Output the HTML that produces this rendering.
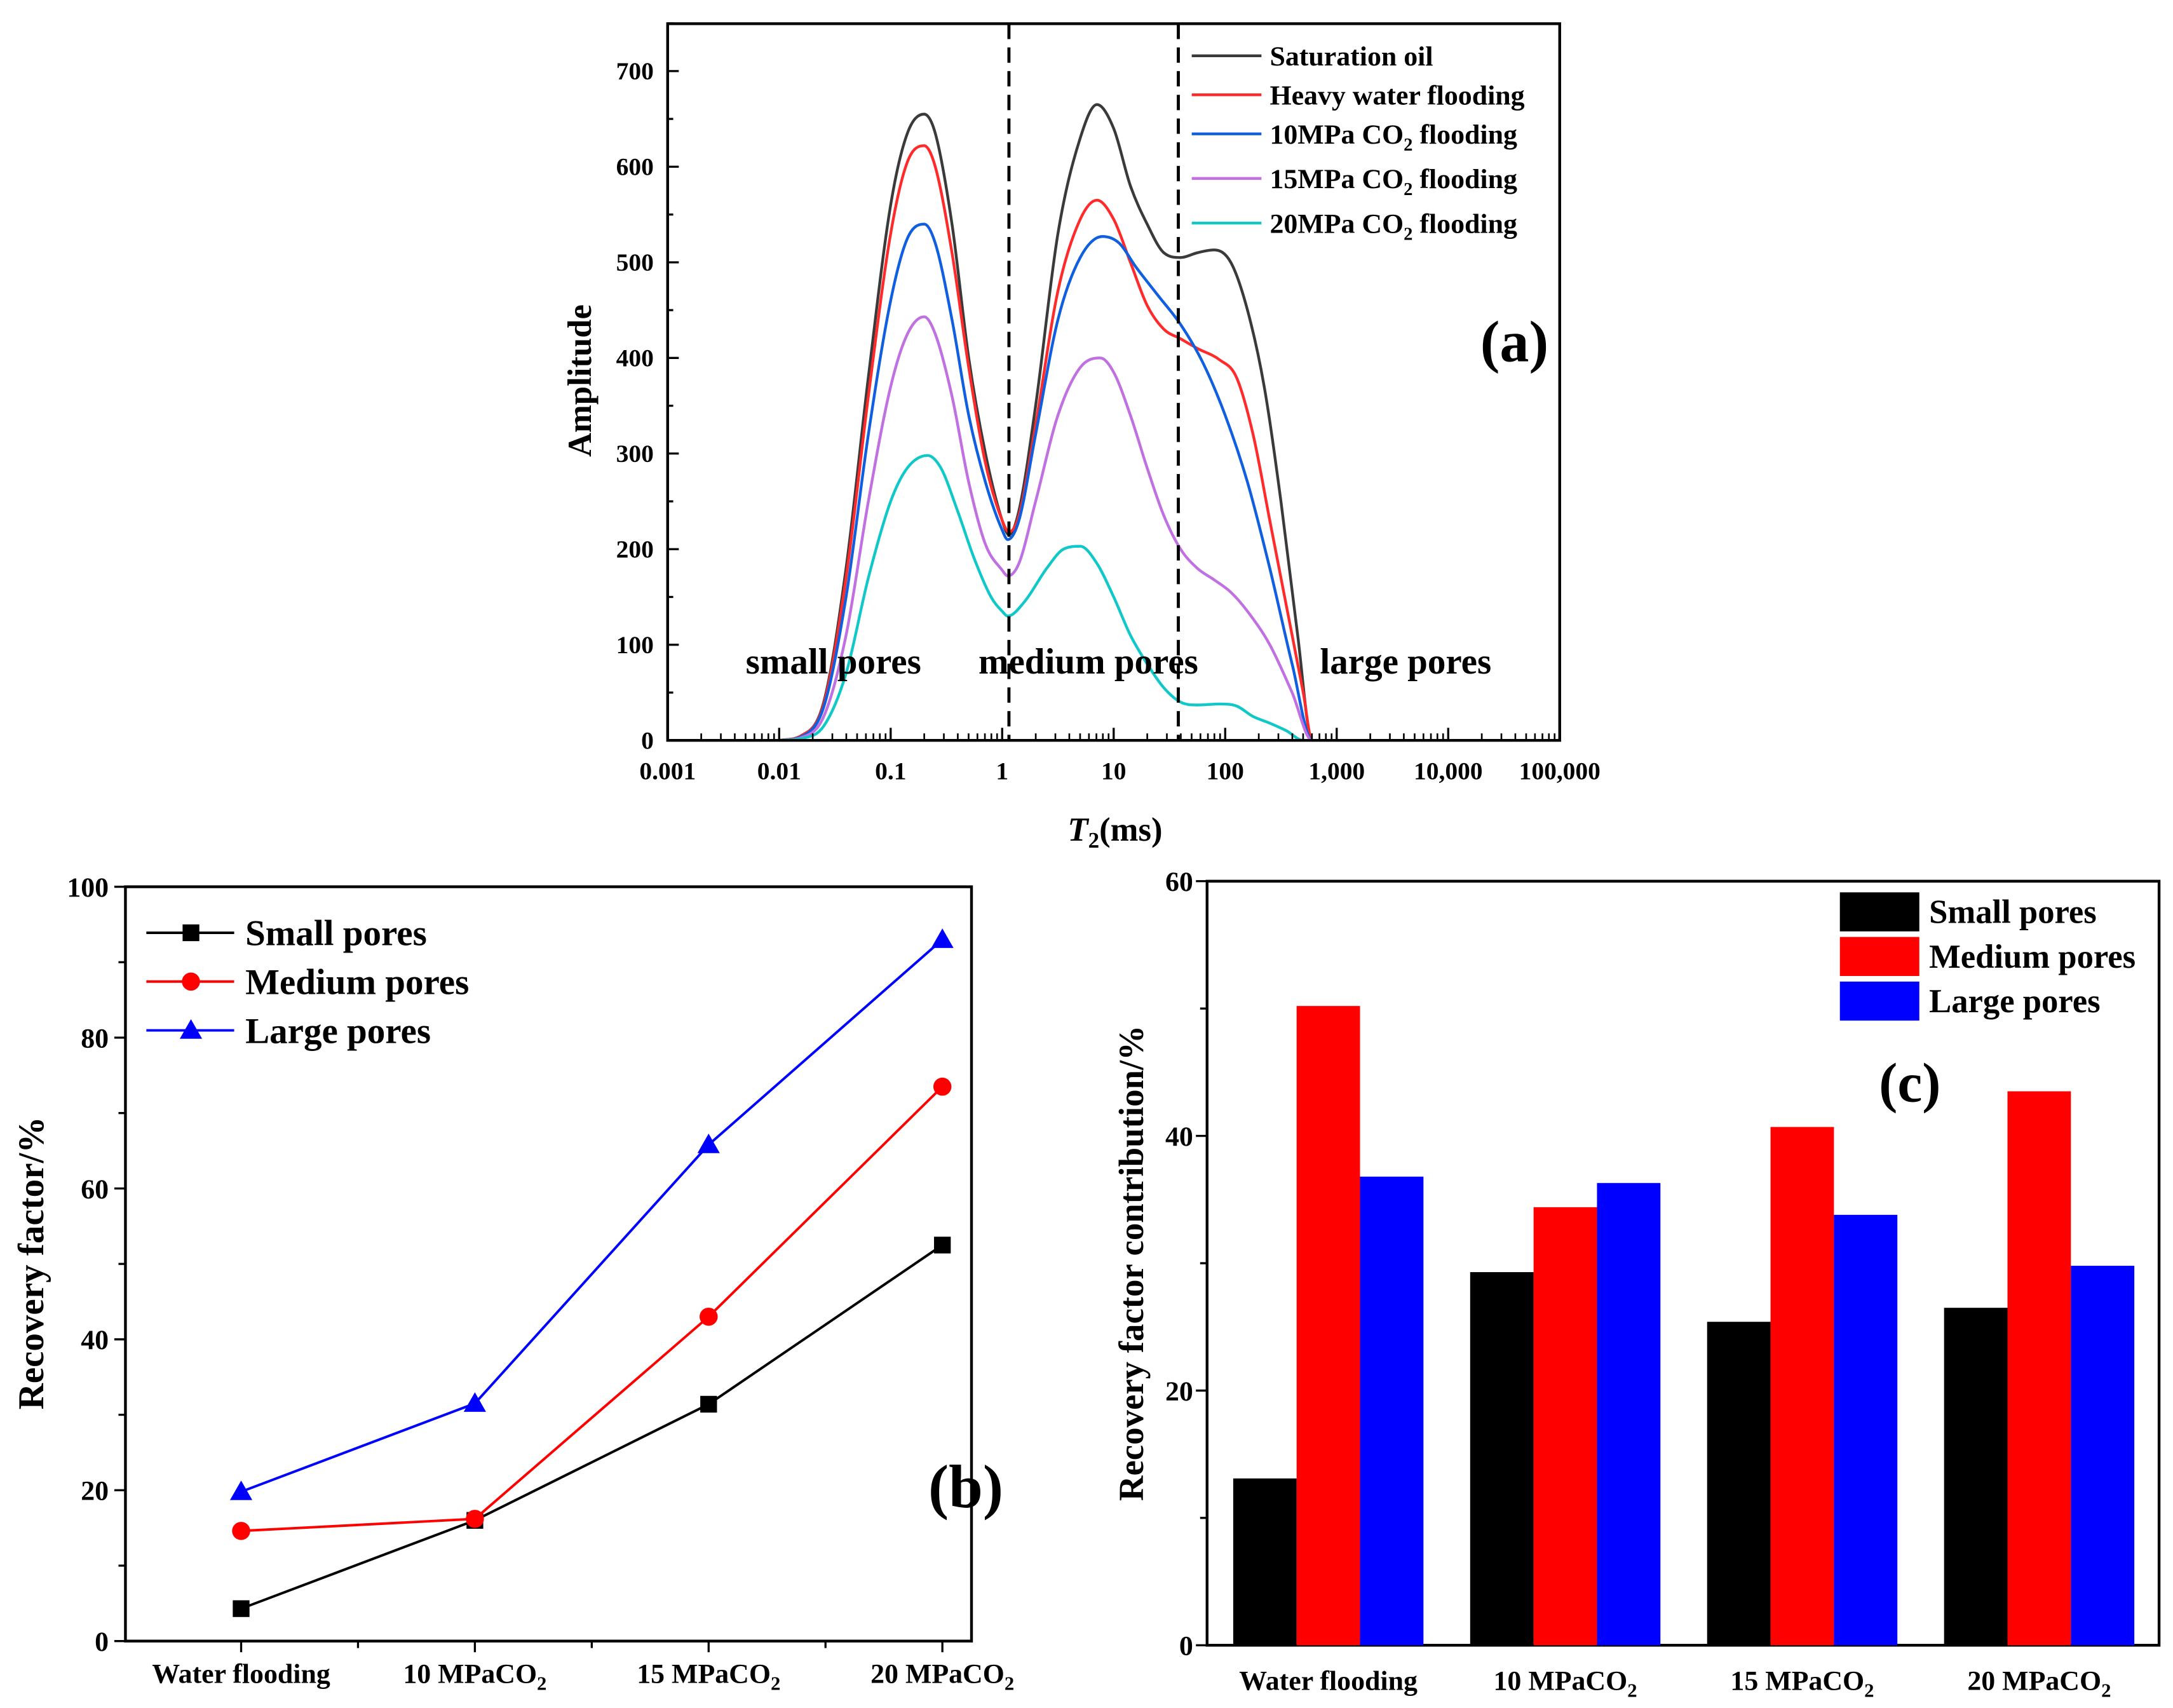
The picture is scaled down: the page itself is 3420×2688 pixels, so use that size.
<!DOCTYPE html>
<html><head><meta charset="utf-8"><style>
html,body{margin:0;padding:0;background:#fff}
svg{display:block}
text{font-family:"Liberation Serif",serif;font-weight:bold;fill:#000}
</style></head><body>
<svg id="fig" xmlns="http://www.w3.org/2000/svg" width="3420" height="2688" viewBox="0 0 1559 1225" preserveAspectRatio="none">
<g id="pa"></g>
<g id="pb"></g>
<g id="pc"></g>
</svg>
<script>
// ---------- Panel (a) data: log10(T2) and amplitude ----------
const satX=[-2,-1.8,-1.6,-1.4,-1.2,-1.0,-0.85,-0.7,-0.6,-0.45,-0.3,-0.15,0,0.06,0.15,0.3,0.5,0.7,0.85,1.0,1.15,1.3,1.45,1.6,1.75,1.9,2.05,2.2,2.35,2.5,2.65,2.78,5];
const satY=[0,5,40,180,380,560,635,655,635,540,400,300,230,215,240,350,530,630,665,640,580,540,510,505,510,513,500,450,370,250,110,0,0];
const hwfX=[-2,-1.8,-1.6,-1.4,-1.2,-1.0,-0.85,-0.7,-0.6,-0.45,-0.3,-0.15,0,0.06,0.15,0.3,0.5,0.7,0.85,1.0,1.15,1.3,1.45,1.6,1.75,1.95,2.1,2.25,2.4,2.55,2.7,2.78,5];
const hwfY=[0,5,38,170,360,530,605,622,600,510,390,290,230,218,235,330,470,545,565,545,500,455,430,420,410,398,380,320,230,140,50,0,0];
const c10X=[-2,-1.8,-1.6,-1.4,-1.2,-1.0,-0.85,-0.7,-0.6,-0.45,-0.3,-0.15,0,0.05,0.15,0.3,0.5,0.7,0.9,1.05,1.2,1.4,1.6,1.8,2.0,2.2,2.4,2.6,2.78,5];
const c10Y=[0,4,35,150,320,460,525,540,520,440,340,270,220,210,230,320,440,505,527,520,495,465,435,395,340,270,180,80,0,0];
const c15X=[-2,-1.8,-1.6,-1.4,-1.2,-1.0,-0.85,-0.7,-0.6,-0.45,-0.3,-0.15,0,0.05,0.15,0.3,0.5,0.7,0.88,1.0,1.15,1.3,1.45,1.6,1.75,1.9,2.05,2.2,2.4,2.6,2.78,5];
const c15Y=[0,3,25,110,250,370,425,443,425,360,270,205,178,172,185,250,340,390,400,385,340,285,235,200,180,168,155,135,100,50,0,0];
const c20X=[-2,-1.8,-1.6,-1.4,-1.2,-1.0,-0.85,-0.67,-0.55,-0.4,-0.25,-0.1,0,0.05,0.2,0.4,0.55,0.7,0.85,1.0,1.15,1.3,1.45,1.6,1.75,1.95,2.1,2.25,2.4,2.55,2.7,5];
const c20Y=[0,2,15,70,170,250,285,298,285,240,190,150,135,130,145,180,200,203,185,150,110,80,55,40,37,38,36,25,18,10,0,0];
const aYTicks=[0,100,200,300,400,500,600,700];
const aXTicks=["0.001","0.01","0.1","1","10","100","1,000","10,000","100,000"];

// ---------- Panel (b) data ----------
const bCats=["Water flooding","10 MPaCO","15 MPaCO","20 MPaCO"];
const bSmall=[4.3,16.0,31.4,52.5];
const bMedium=[14.6,16.2,43.0,73.5];
const bLarge=[19.8,31.5,65.8,93.0];
const bYTicks=[0,20,40,60,80,100];

// ---------- Panel (c) data ----------
const cCats=["Water flooding","10 MPaCO","15 MPaCO","20 MPaCO"];
const cSmall=[13.1,29.3,25.4,26.5];
const cMedium=[50.2,34.4,40.7,43.5];
const cLarge=[36.8,36.3,33.8,29.8];
const cYTicks=[0,20,40,60];

const NS="http://www.w3.org/2000/svg";
function mk(parent,tag,attrs,txt){const e=document.createElementNS(NS,tag);for(const k in attrs)e.setAttribute(k,attrs[k]);if(txt!==undefined)e.textContent=txt;parent.appendChild(e);return e;}
// monotone cubic (Fritsch-Carlson) path, pts sorted by x
function monotone(pts){
  const n=pts.length,dx=[],s=[],m=[];
  for(let i=0;i<n-1;i++){dx[i]=pts[i+1][0]-pts[i][0];s[i]=(pts[i+1][1]-pts[i][1])/dx[i];}
  m[0]=s[0];m[n-1]=s[n-2];
  for(let i=1;i<n-1;i++){m[i]=(s[i-1]*s[i]<=0)?0:(s[i-1]+s[i])/2;}
  for(let i=0;i<n-1;i++){if(s[i]===0){m[i]=0;m[i+1]=0;continue;}const a=m[i]/s[i],b=m[i+1]/s[i],h=a*a+b*b;if(h>9){const t=3/Math.sqrt(h);m[i]=t*a*s[i];m[i+1]=t*b*s[i];}}
  let d="M"+pts[0][0].toFixed(2)+","+pts[0][1].toFixed(2);
  for(let i=0;i<n-1;i++){const h=dx[i]/3;d+=" C"+(pts[i][0]+h).toFixed(2)+","+(pts[i][1]+m[i]*h).toFixed(2)+" "+(pts[i+1][0]-h).toFixed(2)+","+(pts[i+1][1]-m[i+1]*h).toFixed(2)+" "+pts[i+1][0].toFixed(2)+","+pts[i+1][1].toFixed(2);}
  return d;}

// ===== Panel A =====
(function(){
const g=document.getElementById('pa');
const L=479,R=1119,T=17,B=531;
const xs=v=>L+(v+3)*(R-L)/8;
const ys=v=>B-v*(B-51)/700;
const clip=mk(g,'clipPath',{id:'clipa'});mk(clip,'rect',{x:L,y:T,width:R-L,height:B-T});
const series=[[satX,satY,'#3a3a3a','saturation-oil-curve'],[hwfX,hwfY,'#ff2a2a','heavy-water-flooding-curve'],[c10X,c10Y,'#0f5fe0','co2-10mpa-curve'],[c15X,c15Y,'#c070e0','co2-15mpa-curve'],[c20X,c20Y,'#10c8c8','co2-20mpa-curve']];
const cg=mk(g,'g',{'clip-path':'url(#clipa)'});


series.forEach(s=>{const pts=s[0].map((x,i)=>[xs(x),ys(s[1][i])]);const p=mk(cg,'path',{d:monotone(pts),fill:'none',stroke:s[2],'stroke-width':2});

});
[Math.log10(1.15),Math.log10(38)].forEach((v,i)=>{const l=mk(g,'line',{x1:xs(v),x2:xs(v),y1:T,y2:B,stroke:'#000','stroke-width':2.2,'stroke-dasharray':'11,6'});

});
const fr=mk(g,'rect',{x:L,y:T,width:R-L,height:B-T,fill:'none',stroke:'#000','stroke-width':2});


aYTicks.forEach(v=>{mk(g,'line',{x1:L,x2:L+8,y1:ys(v),y2:ys(v),stroke:'#000','stroke-width':1.5});mk(g,'line',{x1:L,x2:L+4,y1:ys(v+50),y2:ys(v+50),stroke:'#000','stroke-width':1.5});
const t=mk(g,'text',{x:L-10,y:ys(v)+6,'text-anchor':'end','font-size':18},String(v));

});
aXTicks.forEach((lab,i)=>{const d=i-3;mk(g,'line',{x1:xs(d),x2:xs(d),y1:B,y2:B-9,stroke:'#000','stroke-width':1.5});
if(i<8)for(let m=2;m<10;m++){const xv=xs(d+Math.log10(m));mk(g,'line',{x1:xv,x2:xv,y1:B,y2:B-5,stroke:'#000','stroke-width':1.2});}
const t=mk(g,'text',{x:xs(d),y:B+28,'text-anchor':'middle','font-size':18},lab);

});
const yt=mk(g,'text',{x:0,y:0,transform:'translate(424,273) rotate(-90)','text-anchor':'middle','font-size':24},'Amplitude');


const xt=mk(g,'text',{x:800,y:603,'text-anchor':'middle','font-size':24});


mk(xt,'tspan',{'font-style':'italic'},'T');mk(xt,'tspan',{'font-size':16,dy:5},'2');mk(xt,'tspan',{dy:-5},'(ms)');
[['small pores',535,'small-pores-label'],['medium pores',702,'medium-pores-label'],['large pores',947,'large-pores-label']].forEach(a=>{const t=mk(g,'text',{x:a[1],y:483,'font-size':26},a[0]);

});
const pl=mk(g,'text',{x:1062,y:259,'font-size':42},'(a)');


const leg=[['Saturation oil',40,''],['Heavy water flooding',68,''],['10MPa CO',96,' flooding'],['15MPa CO',128,' flooding'],['20MPa CO',160,' flooding']];
leg.forEach((e,i)=>{const lg=mk(g,'g',{});


mk(lg,'line',{x1:855,x2:905,y1:e[1],y2:e[1],stroke:series[i][2],'stroke-width':2});
const t=mk(lg,'text',{x:911,y:e[1]+7,'font-size':20},e[0]);
if(e[2]){mk(t,'tspan',{'font-size':13,dy:5},'2');mk(t,'tspan',{dy:-5},e[2]);}});
})();

// ===== Panel B =====
(function(){
const g=document.getElementById('pb');
const L=90,R=697,T=636,B=1177;
const xs=i=>173+i*167.7;
const ys=v=>B-v*(B-T)/100;
const fr=mk(g,'rect',{x:L,y:T,width:R-L,height:B-T,fill:'none',stroke:'#000','stroke-width':2});


bYTicks.forEach(v=>{mk(g,'line',{x1:L,x2:L-8,y1:ys(v),y2:ys(v),stroke:'#000','stroke-width':1.5});if(v<100)mk(g,'line',{x1:L,x2:L-5,y1:ys(v+10),y2:ys(v+10),stroke:'#000','stroke-width':1.5});
const t=mk(g,'text',{x:L-12,y:ys(v)+7,'text-anchor':'end','font-size':20},String(v));

});
bCats.forEach((c,i)=>{mk(g,'line',{x1:xs(i),x2:xs(i),y1:B,y2:B+8,stroke:'#000','stroke-width':1.5});if(i<3)mk(g,'line',{x1:xs(i+0.5),x2:xs(i+0.5),y1:B,y2:B+5,stroke:'#000','stroke-width':1.5});
const t=mk(g,'text',{x:xs(i),y:B+30,'text-anchor':'middle','font-size':20},c);


if(i>0){mk(t,'tspan',{'font-size':14,dy:5},'2');}});
const ser=[[bSmall,'#000','square','small-pores-series'],[bMedium,'#ff0000','circle','medium-pores-series'],[bLarge,'#0000ff','tri','large-pores-series']];
function marker(p,type,x,y,col){if(type==='square')return mk(p,'rect',{x:x-6,y:y-6,width:12,height:12,fill:col});if(type==='circle')return mk(p,'circle',{cx:x,cy:y,r:6.5,fill:col});return mk(p,'polygon',{points:`${x},${y-8} ${x-8},${y+6} ${x+8},${y+6}`,fill:col});}
ser.forEach(s=>{const sg=mk(g,'g',{});


mk(sg,'polyline',{points:s[0].map((v,i)=>xs(i)+','+ys(v)).join(' '),fill:'none',stroke:s[1],'stroke-width':1.8});
s[0].forEach((v,i)=>{const m=marker(sg,s[2],xs(i),ys(v),s[1]);

});});
[['Small pores',669],['Medium pores',704],['Large pores',739]].forEach((e,i)=>{const lg=mk(g,'g',{});


mk(lg,'line',{x1:105,x2:168,y1:e[1],y2:e[1],stroke:ser[i][1],'stroke-width':1.8});marker(lg,ser[i][2],137,e[1],ser[i][1]);
mk(lg,'text',{x:176,y:e[1]+9,'font-size':26},e[0]);});
const yt=mk(g,'text',{x:0,y:0,transform:'translate(31,906) rotate(-90)','text-anchor':'middle','font-size':26},'Recovery factor/%');


const pl=mk(g,'text',{x:666,y:1081,'font-size':44},'(b)');


})();

// ===== Panel C =====
(function(){
const g=document.getElementById('pc');
const L=866,R=1549,T=632,B=1180;
const ys=v=>B-v*(B-T)/60;
const gc=i=>953+i*170;
const bw=45.5;
const fr=mk(g,'rect',{x:L,y:T,width:R-L,height:B-T,fill:'none',stroke:'#000','stroke-width':2});


cYTicks.forEach(v=>{mk(g,'line',{x1:L,x2:L-8,y1:ys(v),y2:ys(v),stroke:'#000','stroke-width':1.5});if(v<60)mk(g,'line',{x1:L,x2:L-5,y1:ys(v+10),y2:ys(v+10),stroke:'#000','stroke-width':1.5});
const t=mk(g,'text',{x:L-10,y:ys(v)+7,'text-anchor':'end','font-size':20},String(v));

});
const ser=[[cSmall,'#000','small-pores-bar'],[cMedium,'#ff0000','medium-pores-bar'],[cLarge,'#0000ff','large-pores-bar']];
cCats.forEach((c,i)=>{ser.forEach((s,j)=>{const r=mk(g,'rect',{x:gc(i)+(j-1.5)*bw,y:ys(s[0][i]),width:bw,height:B-ys(s[0][i]),fill:s[1]});

});
const t=mk(g,'text',{x:gc(i),y:B+32,'text-anchor':'middle','font-size':20},c);


if(i>0)mk(t,'tspan',{'font-size':14,dy:5},'2');});
[['Small pores',640],['Medium pores',672],['Large pores',704]].forEach((e,i)=>{const lg=mk(g,'g',{});


mk(lg,'rect',{x:1320,y:e[1],width:57,height:28,fill:ser[i][1]});
mk(lg,'text',{x:1384,y:e[1]+22,'font-size':24},e[0]);});
const yt=mk(g,'text',{x:0,y:0,transform:'translate(820,906) rotate(-90)','text-anchor':'middle','font-size':25},'Recovery factor contribution/%');


const pl=mk(g,'text',{x:1348,y:790,'font-size':40},'(c)');


})();
</script>
</body></html>
